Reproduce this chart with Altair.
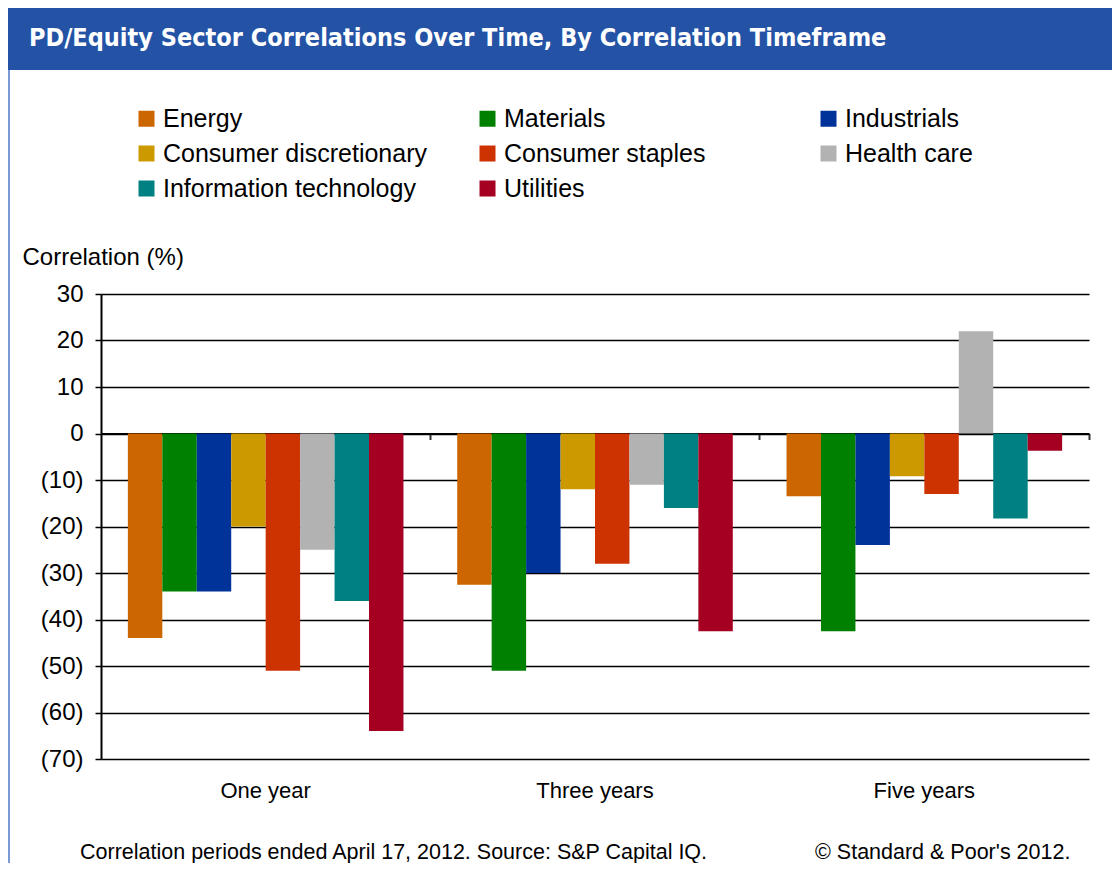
import altair as alt
import pandas as pd

# ---- data ----
periods = ["One year", "Three years", "Five years"]
sectors = ["Energy", "Materials", "Industrials", "Consumer discretionary",
           "Consumer staples", "Health care", "Information technology", "Utilities"]
colors = ["#CC6600", "#008000", "#003399", "#CC9900",
          "#CC3300", "#B2B2B2", "#008080", "#A50021"]
energy = [-44, -32.5, -13.5]
materials = [-34, -51, -42.5]
industrials = [-34, -30, -24]
consumer_discretionary = [-20, -12, -9.2]
consumer_staples = [-51, -28, -13]
health_care = [-25, -11, 22]
information_technology = [-36, -16, -18.3]
utilities = [-64, -42.5, -3.7]
y_ticks = [30, 20, 10, 0, -10, -20, -30, -40, -50, -60, -70]

title_text = "PD/Equity Sector Correlations Over Time, By Correlation Timeframe"
footer_left = "Correlation periods ended April 17, 2012. Source: S&P Capital IQ."
footer_right = "\u00a9 Standard & Poor's 2012."

series = [energy, materials, industrials, consumer_discretionary,
          consumer_staples, health_care, information_technology, utilities]
rows = []
for s, vals in zip(sectors, series):
    for p, v in zip(periods, vals):
        rows.append({"period": p, "sector": s, "value": v})
df = pd.DataFrame(rows)

FONT = "Liberation Sans, Arial, sans-serif"
W, H = 988, 465
PL, PT, PR, PB = 93, 286, 23, 104

neg_expr = ("datum.value < 0 ? '(' + format(-datum.value, 'd') + ')' "
            ": format(datum.value, 'd')")

bars = alt.Chart(df).mark_bar().encode(
    x=alt.X("period:N", sort=periods,
            scale=alt.Scale(paddingInner=0, paddingOuter=0),
            axis=alt.Axis(title=None, labelAngle=0, domain=False, ticks=False,
                          grid=False, labelPadding=21, labelFontSize=22,
                          labelFont=FONT, labelColor="#000", labelBaseline="top")),
    xOffset=alt.XOffset("sector:N", sort=sectors,
                        scale=alt.Scale(paddingInner=0, paddingOuter=0.78)),
    y=alt.Y("value:Q", scale=alt.Scale(domain=[-70, 30], nice=False, zero=False),
            axis=alt.Axis(values=y_ticks, labelExpr=neg_expr, title="Correlation (%)",
                          titleAngle=0, titleAlign="left", titleBaseline="middle",
                          titleX=-79, titleY=-37, titleFontSize=24,
                          titleFontWeight="normal", titleFont=FONT, titleColor="#000",
                          labelFontSize=24, labelFont=FONT, labelColor="#000",
                          labelPadding=12, tickSize=6, tickColor="#000", tickWidth=1.5,
                          domainColor="#000", domainWidth=2,
                          grid=True, gridColor="#000", gridWidth=1.5)),
    color=alt.Color("sector:N", sort=sectors,
                    scale=alt.Scale(domain=sectors, range=colors),
                    legend=alt.Legend(title=None, orient="none", legendX=33, legendY=-188,
                                      direction="horizontal",
                                      columns=3, gridAlign="all", symbolType="square",
                                      symbolSize=256, symbolStrokeWidth=0,
                                      labelFontSize=25, labelFont=FONT, labelColor="#000",
                                      labelOffset=4, labelLimit=400, columnPadding=48,
                                      rowPadding=9, padding=0)),
)

# zero line with category boundary ticks
zero_axis = alt.Chart(pd.DataFrame({"period": periods})).mark_bar(opacity=0).encode(
    x=alt.X("period:N", sort=periods,
            scale=alt.Scale(paddingInner=0, paddingOuter=0),
            axis=alt.Axis(orient="bottom", offset=-325.5, title=None, labels=False,
                          grid=False, domain=True, domainColor="#000", domainWidth=2,
                          ticks=True, bandPosition=1, tickSize=6, tickColor="#333",
                          tickWidth=2)),
)

one = pd.DataFrame({"t": [title_text]})
header = alt.Chart(one).mark_rect(color="#2453A6").encode(
    x=alt.value(-PL), x2=alt.value(W + PR), y=alt.value(-PT), y2=alt.value(-224))
header_text = alt.Chart(one).mark_text(
    align="left", baseline="alphabetic", color="white", fontSize=25,
    fontWeight="bold", font="Liberation Sans Narrow, DejaVu Sans Condensed, sans-serif"
).encode(text="t:N", x=alt.value(-72), y=alt.value(-248))
border = alt.Chart(one).mark_rule(color="#7A9BD6", strokeWidth=2).encode(
    x=alt.value(-92), y=alt.value(-224), y2=alt.value(H + PB))

foot1 = alt.Chart(pd.DataFrame({"t": [footer_left]})).mark_text(
    align="left", baseline="middle", fontSize=21.5, font=FONT, color="#000"
).encode(text="t:N", x=alt.value(-21), y=alt.value(559))
foot2 = alt.Chart(pd.DataFrame({"t": [footer_right]})).mark_text(
    align="left", baseline="middle", fontSize=21.5, font=FONT, color="#000"
).encode(text="t:N", x=alt.value(714), y=alt.value(559))

chart = alt.layer(header, header_text, border, bars, zero_axis, foot1, foot2).resolve_scale(
    x="independent"
).properties(
    width=W, height=H,
    padding={"left": PL, "top": PT, "right": PR, "bottom": PB},
    autosize=alt.AutoSizeParams(type="none"),
    background="white",
).configure_view(stroke=None)

chart.save("out.html", embed_options={"renderer": "svg", "actions": False})
